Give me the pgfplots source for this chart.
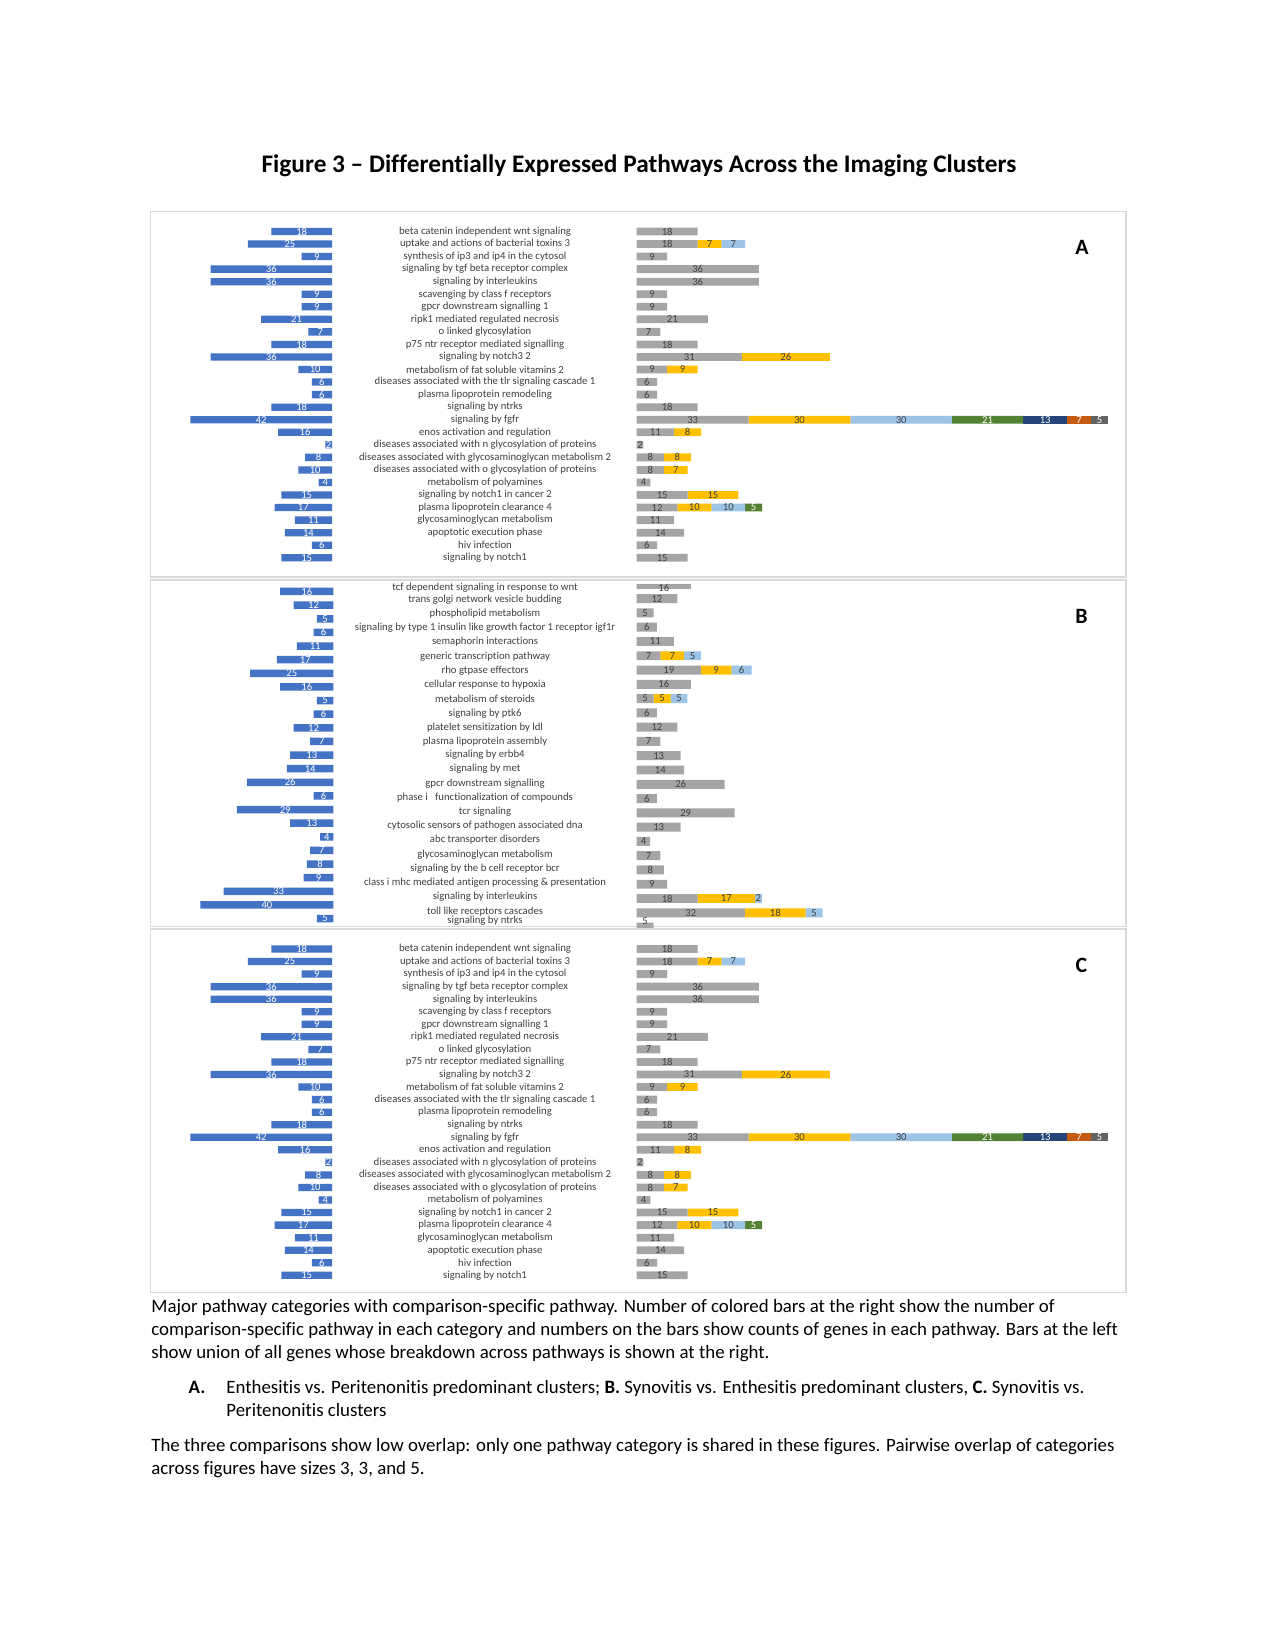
\documentclass[border=0pt]{standalone}
\usepackage{fontspec}
\setmainfont{Carlito}[Ligatures=NoCommon]
\usepackage{pgfplots}
\usepackage{pgfplotstable}
\pgfplotsset{compat=1.18}
\definecolor{cblue}{HTML}{4472C4}
\definecolor{cgray}{HTML}{A5A5A5}
\definecolor{cgold}{HTML}{FFC000}
\definecolor{clblue}{HTML}{9DC3E6}
\definecolor{cgreen}{HTML}{548235}
\definecolor{cnavy}{HTML}{264478}
\definecolor{cbrown}{HTML}{C55A11}
\definecolor{cdgray}{HTML}{636363}
\definecolor{ctext}{HTML}{404040}
\definecolor{cframe}{HTML}{D9D9D9}
\newcommand\catfont{\fontsize{5.15}{6}\selectfont}
\newcommand\valfont{\fontsize{5.1}{6}\selectfont}
\newcommand\capfont{\fontsize{9.05}{11}\selectfont}

\pgfplotstableread{
r L s1 s2 s3 s4 s5 s6 s7
1 18 18 0 0 0 0 0 0
2 25 18 7 7 0 0 0 0
3 9 9 0 0 0 0 0 0
4 36 36 0 0 0 0 0 0
5 36 36 0 0 0 0 0 0
6 9 9 0 0 0 0 0 0
7 9 9 0 0 0 0 0 0
8 21 21 0 0 0 0 0 0
9 7 7 0 0 0 0 0 0
10 18 18 0 0 0 0 0 0
11 36 31 26 0 0 0 0 0
12 10 9 9 0 0 0 0 0
13 6 6 0 0 0 0 0 0
14 6 6 0 0 0 0 0 0
15 18 18 0 0 0 0 0 0
16 42 33 30 30 21 13 7 5
17 16 11 8 0 0 0 0 0
18 2 2 0 0 0 0 0 0
19 8 8 8 0 0 0 0 0
20 10 8 7 0 0 0 0 0
21 4 4 0 0 0 0 0 0
22 15 15 15 0 0 0 0 0
23 17 12 10 10 5 0 0 0
24 11 11 0 0 0 0 0 0
25 14 14 0 0 0 0 0 0
26 6 6 0 0 0 0 0 0
27 15 15 0 0 0 0 0 0
}\tabAC

\pgfplotstableread{
r L s1 s2 s3 s4 s5 s6 s7 ly
1 16 16 0 0 0 0 0 0 1.23
2 12 12 0 0 0 0 0 0 2
3 5 5 0 0 0 0 0 0 3
4 6 6 0 0 0 0 0 0 4
5 11 11 0 0 0 0 0 0 5
6 17 7 7 5 0 0 0 0 6
7 25 19 9 6 0 0 0 0 7
8 16 16 0 0 0 0 0 0 8
9 5 5 5 5 0 0 0 0 9
10 6 6 0 0 0 0 0 0 10
11 12 12 0 0 0 0 0 0 11
12 7 7 0 0 0 0 0 0 12
13 13 13 0 0 0 0 0 0 13
14 14 14 0 0 0 0 0 0 14
15 26 26 0 0 0 0 0 0 15
16 6 6 0 0 0 0 0 0 16
17 29 29 0 0 0 0 0 0 17
18 13 13 0 0 0 0 0 0 18
19 4 4 0 0 0 0 0 0 19
20 7 7 0 0 0 0 0 0 20
21 8 8 0 0 0 0 0 0 21
22 9 9 0 0 0 0 0 0 22
23 33 18 17 2 0 0 0 0 23
24 40 32 18 5 0 0 0 0 24
25 5 5 0 0 0 0 0 0 24.57
}\tabB

\pgfplotsset{
  base/.style={scale only axis, anchor=south west, enlargelimits=false, y dir=reverse, hide axis,
    /pgf/number format/assume math mode=true},
  vlab/.style={only marks, mark=none, nodes near coords, point meta=explicit,
    restrict x to domain=0:1000,
    every node near coord/.append style={anchor=center, font=\valfont, inner sep=0pt, text=#1}},
  catax/.style={scale only axis, anchor=south west, enlargelimits=false, y dir=reverse,
    axis line style={draw=none}, major tick length=0pt, xtick=\empty,
    yticklabel style={font=\catfont, text=ctext, anchor=center, xshift=-72.8pt, inner sep=0pt}},
}

\newcommand\segbars[1]{%
  \addplot[fill=cgray,draw=none] table[x=s1,y=r]{#1};
  \addplot[fill=cgold,draw=none] table[x=s2,y=r]{#1};
  \addplot[fill=clblue,draw=none] table[x=s3,y=r]{#1};
  \addplot[fill=cgreen,draw=none] table[x=s4,y=r]{#1};
  \addplot[fill=cnavy,draw=none] table[x=s5,y=r]{#1};
  \addplot[fill=cbrown,draw=none] table[x=s6,y=r]{#1};
  \addplot[fill=cdgray,draw=none] table[x=s7,y=r]{#1};
}
\newcommand\seglabs[2]{%
  \addplot[vlab=ctext] table[x expr=\thisrow{s1}/2, y=#2, meta=s1]{#1};
  \addplot[vlab=ctext] table[x expr={\thisrow{s2}>0 ? \thisrow{s1}+\thisrow{s2}/2 : -100}, y=#2, meta=s2]{#1};
  \addplot[vlab=ctext] table[x expr={\thisrow{s3}>0 ? \thisrow{s1}+\thisrow{s2}+\thisrow{s3}/2 : -100}, y=#2, meta=s3]{#1};
  \addplot[vlab=white] table[x expr={\thisrow{s4}>0 ? \thisrow{s1}+\thisrow{s2}+\thisrow{s3}+\thisrow{s4}/2 : -100}, y=#2, meta=s4]{#1};
  \addplot[vlab=white] table[x expr={\thisrow{s5}>0 ? \thisrow{s1}+\thisrow{s2}+\thisrow{s3}+\thisrow{s4}+\thisrow{s5}/2 : -100}, y=#2, meta=s5]{#1};
  \addplot[vlab=white] table[x expr={\thisrow{s6}>0 ? \thisrow{s1}+\thisrow{s2}+\thisrow{s3}+\thisrow{s4}+\thisrow{s5}+\thisrow{s6}/2 : -100}, y=#2, meta=s6]{#1};
  \addplot[vlab=white] table[x expr={\thisrow{s7}>0 ? \thisrow{s1}+\thisrow{s2}+\thisrow{s3}+\thisrow{s4}+\thisrow{s5}+\thisrow{s6}+\thisrow{s7}/2 : -100}, y=#2, meta=s7]{#1};
}

\newcommand\panelAC[1]{%
  \begin{axis}[base, at={(86.57pt,#1)}, width=72.79pt, height=162.65pt, xmin=0, xmax=45, x dir=reverse,
      ymin=0.5, ymax=27.5, xbar, bar width=3.5pt]
    \addplot[fill=cblue, draw=none] table[x=L, y=r]{\tabAC};
  \end{axis}
  \begin{axis}[base, clip=false, at={(86.57pt,#1)}, width=72.79pt, height=162.65pt, xmin=0, xmax=45, x dir=reverse,
      ymin=0.5, ymax=27.5]
    \addplot[vlab=white] table[x expr=\thisrow{L}/2, y=r, meta=L]{\tabAC};
  \end{axis}
  \begin{axis}[base, at={(305.62pt,#1)}, width=235.94pt, height=162.65pt, xmin=0, xmax=145,
      ymin=0.5, ymax=27.5, xbar stacked, bar width=3.75pt]
    \segbars{\tabAC}
  \end{axis}
  \begin{axis}[base, clip=false, at={(305.62pt,#1)}, width=235.94pt, height=162.65pt, xmin=0, xmax=145,
      ymin=0.5, ymax=27.5]
    \seglabs{\tabAC}{r}
  \end{axis}
  \begin{axis}[catax, at={(305.62pt,#1)}, width=235.94pt, height=162.65pt, xmin=0, xmax=145,
      ymin=0.5, ymax=27.5, ytick={1,...,27},
      yticklabels={beta catenin independent wnt signaling, uptake and actions of bacterial toxins 3,
        synthesis of ip3 and ip4 in the cytosol, signaling by tgf beta receptor complex,
        signaling by interleukins, scavenging by class f receptors, gpcr downstream signalling 1,
        ripk1 mediated regulated necrosis, o linked glycosylation, p75 ntr receptor mediated signalling,
        signaling by notch3 2, metabolism of fat soluble vitamins 2,
        diseases associated with the tlr signaling cascade 1, plasma lipoprotein remodeling,
        signaling by ntrks, signaling by fgfr, enos activation and regulation,
        diseases associated with n glycosylation of proteins,
        diseases associated with glycosaminoglycan metabolism 2,
        diseases associated with o glycosylation of proteins, metabolism of polyamines,
        signaling by notch1 in cancer 2, plasma lipoprotein clearance 4, glycosaminoglycan metabolism,
        apoptotic execution phase, hiv infection, signaling by notch1}]
  \end{axis}
}

\begin{document}
\begin{tikzpicture}
\useasboundingbox (0,0) rectangle (612pt,792pt);
\fill[white] (0,0) rectangle (612pt,792pt);

% title
\node[anchor=base, inner sep=0pt, font=\fontsize{12.15}{14}\selectfont\bfseries] at (306.7pt,709.1pt)
  {Figure 3 \textendash\ Differentially Expressed Pathways Across the Imaging Clusters};

% frames
\draw[cframe, line width=0.75pt] (72.34pt,515.04pt) rectangle (540.48pt,690.38pt);
\draw[cframe, line width=0.75pt] (72.34pt,347.28pt) rectangle (540.48pt,513.6pt);
\draw[cframe, line width=0.75pt] (72.34pt,171.5pt) rectangle (540.48pt,346.08pt);

% panel A and C
\panelAC{521.25pt}
\panelAC{176.84pt}

% panel B
\begin{axis}[base, at={(88.15pt,347.79pt)}, width=71.93pt, height=163.56pt, xmin=0, xmax=45, x dir=reverse,
    ymin=0.5, ymax=25.5, xbar, bar width=3.6pt]
  \addplot[fill=cblue, draw=none] table[x=L, y=r]{\tabB};
\end{axis}
\begin{axis}[base, clip=false, at={(88.15pt,347.79pt)}, width=71.93pt, height=163.56pt, xmin=0, xmax=45, x dir=reverse,
    ymin=0.5, ymax=25.5]
  \addplot[vlab=white] table[x expr=\thisrow{L}/2, y=r, meta=L]{\tabB};
\end{axis}
\begin{axis}[base, at={(305.62pt,347.0pt)}, width=235.25pt, height=164.5pt, xmin=0, xmax=145,
    ymin=1.0, ymax=25.0, xbar stacked, bar width=4.3pt]
  \segbars{\tabB}
\end{axis}
\begin{axis}[base, clip=false, at={(305.62pt,347.0pt)}, width=235.25pt, height=164.5pt, xmin=0, xmax=145,
    ymin=1.0, ymax=25.0]
  \seglabs{\tabB}{ly}
\end{axis}
\begin{axis}[catax, at={(305.62pt,343.2pt)}, width=235.25pt, height=175.2pt, xmin=0, xmax=145,
    ymin=570, ymax=935,
    ytick={587.7,599.3,613.3,627.7,641.3,656.7,670.7,685,698.7,714,727.3,741.7,755,768.3,783.3,797.3,811.3,825.3,840,854.7,868.3,882.3,897,911.7,920.7},
    yticklabels={tcf dependent signaling in response to wnt, trans golgi network vesicle budding,
      phospholipid metabolism, signaling by type 1 insulin like growth factor 1 receptor igf1r,
      semaphorin interactions, generic transcription pathway, rho gtpase effectors,
      cellular response to hypoxia, metabolism of steroids, signaling by ptk6,
      platelet sensitization by ldl, plasma lipoprotein assembly, signaling by erbb4, signaling by met,
      gpcr downstream signalling, phase i\ \ \ functionalization of compounds, tcr signaling,
      cytosolic sensors of pathogen associated dna, abc transporter disorders,
      glycosaminoglycan metabolism, signaling by the b cell receptor bcr,
      class i mhc mediated antigen processing \& presentation, signaling by interleukins,
      toll like receptors cascades, signaling by ntrks}]
\end{axis}

% panel letters
\node[font=\fontsize{10.5}{12}\selectfont\bfseries] at (519.36pt,673.15pt) {A};
\node[font=\fontsize{10.5}{12}\selectfont\bfseries] at (519.1pt,496.3pt) {B};
\node[font=\fontsize{10.5}{12}\selectfont\bfseries] at (519.1pt,328.5pt) {C};

% caption
\begin{scope}[every node/.style={anchor=base west, inner sep=0pt, font=\capfont}]
\node at (72.48pt,162.0pt) {Major pathway categories with comparison-specific pathway. Number of colored bars at the right show the number of};
\node at (72.48pt,150.86pt) {comparison-specific pathway in each category and numbers on the bars show counts of genes in each pathway. Bars at the left};
\node at (72.48pt,139.73pt) {show union of all genes whose breakdown across pathways is shown at the right.};
\node at (90.38pt,123.12pt) {\bfseries A.};
\node at (108.48pt,123.12pt) {Enthesitis vs. Peritenonitis predominant clusters; \textbf{B.} Synovitis vs. Enthesitis predominant clusters, \textbf{C.} Synovitis vs.};
\node at (108.48pt,111.98pt) {Peritenonitis clusters};
\node at (72.48pt,95.28pt) {The three comparisons show low overlap: only one pathway category is shared in these figures. Pairwise overlap of categories};
\node at (72.48pt,84.14pt) {across figures have sizes 3, 3, and 5.};
\end{scope}
\end{tikzpicture}
\end{document}
